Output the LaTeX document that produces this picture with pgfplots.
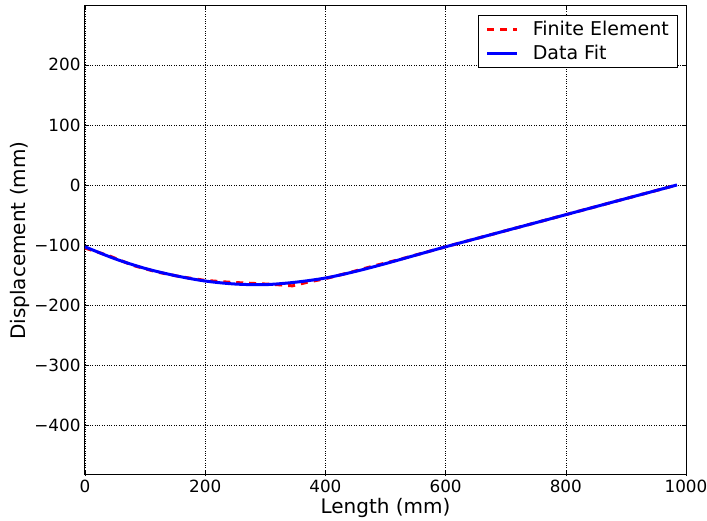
\documentclass[border=0pt]{standalone}
\usepackage{fontspec}
\setmainfont{DejaVu Sans}
\usepackage{pgfplots}
\pgfplotsset{compat=1.18}
\pgfplotsset{mylegimg/.style={legend image code/.code={%
    \draw[##1, line width=3pt] (0pt,0pt) -- (30pt,0pt);}}}
\begin{document}
\begin{tikzpicture}
\path[use as bounding box] (-85pt,-46pt) rectangle (622pt,475pt);
\begin{axis}[
  at={(0pt,0pt)}, anchor=south west,
  scale only axis, width=601pt, height=469pt,
  xmin=0, xmax=1000, ymin=-483, ymax=298,
  xtick={0,200,400,600,800,1000},
  xticklabels={0,200,400,600,800,1000},
  ytick={-400,-300,-200,-100,0,100,200},
  yticklabels={−400,−300,−200,−100,0,100,200},
  tick align=inside,
  major tick length=4pt,
  tick style={black, line width=0.6pt},
  grid=major,
  grid style={black, dotted, line width=0.6pt},
  axis line style={black, line width=1pt},
  ticklabel style={font=\fontsize{16.8}{20}\selectfont},
  xticklabel style={yshift=-2pt},
  yticklabel style={xshift=-1pt},
  label style={font=\fontsize{20}{24}\selectfont},
  xlabel={Length (mm)},
  ylabel={Displacement (mm)},
  xlabel style={yshift=2pt},
  ylabel style={yshift=-2pt},
  legend style={at={(0.987,0.981)}, anchor=north east, draw=black, line width=0.8pt,
    font=\fontsize{19}{23}\selectfont, inner xsep=7pt, inner ysep=4pt,
    row sep=4pt, cells={anchor=west},
    /tikz/every odd column/.append style={column sep=12pt}},
]
\addplot[red, line width=3pt, dash pattern=on 7pt off 6pt, mylegimg] coordinates {
(0,-105) (40,-118) (80,-134) (120,-145) (160,-153) (200,-159) (240,-162)
(280,-164) (320,-166) (345,-168) (370,-162) (400,-156) (440,-146) (480,-135)
(520,-125) (560,-114) (600,-103) (650,-89.6) (700,-76.2) (750,-62.9)
(800,-49.5) (850,-36.1) (900,-22.7) (950,-9.4) (985,0)};
\addlegendentry{Finite Element}
\addplot[blue, line width=3pt, smooth, mylegimg] coordinates {
(0,-103) (50,-123) (100,-139) (150,-151) (200,-160) (250,-165) (300,-166)
(350,-162) (400,-155) (450,-144) (500,-131) (550,-117) (600,-103) (650,-89.6)
(700,-76.2) (750,-62.9) (800,-49.5) (850,-36.1) (900,-22.7) (950,-9.4) (985,0)};
\addlegendentry{Data Fit}
\end{axis}
\end{tikzpicture}
\end{document}
